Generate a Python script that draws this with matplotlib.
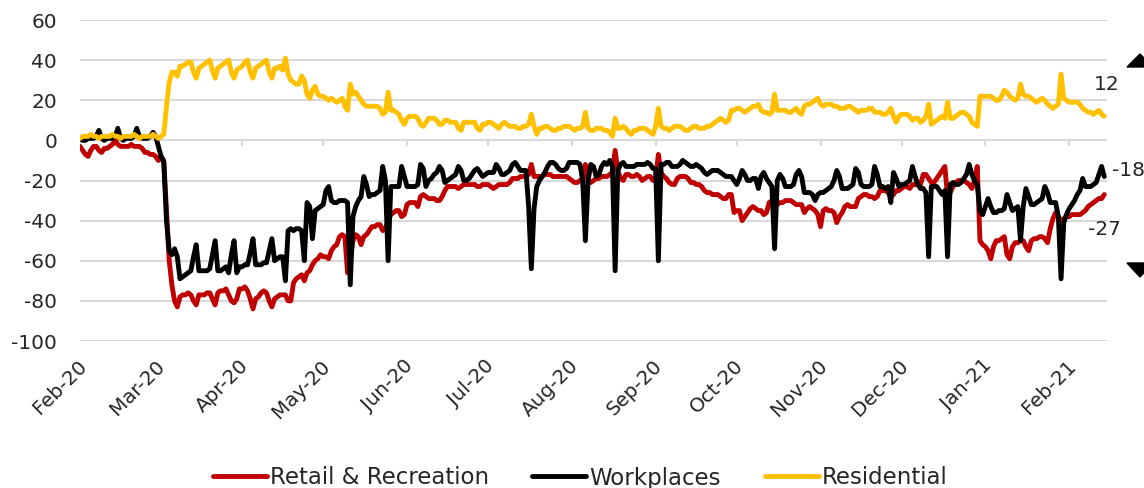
import datetime
import matplotlib
matplotlib.use("Agg")
import matplotlib.pyplot as plt
import matplotlib.dates as mdates
import matplotlib.transforms as mtransforms
from matplotlib.patches import Polygon

START_DATE = datetime.date(2020, 2, 15)

# daily % change from baseline, one row per week (Sat..Fri) starting 15 Feb 2020
retail_recreation = [
    -3, -5, -7, -8, -5, -3, -3,
    -5, -6, -4, -4, -3, -2, 0,
    -2, -3, -3, -3, -3, -2, -3,
    -3, -3, -4, -6, -6, -7, -7,
    -8, -10, -8, -10, -35, -60, -72,
    -80, -83, -78, -77, -77, -76, -77,
    -80, -82, -77, -77, -77, -76, -76,
    -79, -82, -76, -75, -75, -74, -77,
    -80, -81, -79, -74, -74, -73, -75,
    -79, -84, -79, -78, -76, -75, -76,
    -80, -83, -79, -78, -77, -77, -77,
    -80, -80, -71, -69, -68, -67, -70,
    -66, -65, -62, -60, -59, -57, -58,
    -58, -59, -55, -53, -52, -48, -47,
    -48, -66, -60, -50, -47, -48, -52,
    -48, -47, -45, -43, -43, -42, -42,
    -45, -44, -40, -37, -36, -35, -35,
    -38, -37, -32, -31, -31, -31, -33,
    -28, -27, -28, -29, -29, -29, -30,
    -30, -28, -25, -23, -23, -23, -23,
    -24, -23, -22, -22, -22, -22, -22,
    -23, -23, -22, -22, -22, -23, -24,
    -23, -22, -22, -22, -22, -21, -19,
    -19, -19, -18, -18, -18, -17, -12,
    -18, -18, -18, -18, -17, -17, -17,
    -18, -18, -18, -18, -18, -18, -19,
    -20, -21, -21, -20, -19, -12, -21,
    -21, -20, -19, -19, -18, -18, -18,
    -17, -16, -5, -15, -19, -20, -17,
    -17, -18, -18, -17, -18, -20, -19,
    -18, -18, -20, -19, -7, -16, -18,
    -19, -21, -22, -22, -19, -18, -18,
    -18, -19, -21, -21, -22, -22, -23,
    -25, -26, -26, -27, -27, -27, -28,
    -29, -29, -27, -27, -36, -35, -35,
    -40, -38, -36, -34, -33, -34, -35,
    -35, -37, -36, -31, -30, -31, -32,
    -31, -31, -30, -30, -30, -31, -32,
    -32, -32, -36, -34, -33, -34, -35,
    -37, -43, -35, -34, -35, -35, -36,
    -41, -38, -36, -33, -32, -33, -33,
    -33, -29, -28, -27, -27, -28, -28,
    -29, -28, -25, -25, -25, -26, -28,
    -27, -25, -25, -24, -23, -23, -24,
    -22, -22, -22, -22, -17, -17, -19,
    -21, -21, -19, -17, -15, -13, -28,
    -26, -23, -21, -20, -20, -20, -21,
    -22, -24, -20, -13, -50, -52, -53,
    -55, -59, -53, -50, -50, -49, -48,
    -57, -59, -53, -51, -51, -50, -50,
    -53, -55, -50, -49, -49, -48, -48,
    -49, -51, -44, -39, -36, -38, -40,
    -39, -38, -38, -37, -37, -37, -37,
    -36, -35, -33, -32, -31, -30, -29,
    -29, -27,
]

workplaces = [
    1, 0, 0, 1, 1, 1, 2,
    5, 1, 0, 1, 1, 1, 2,
    6, 1, 0, 1, 1, 1, 2,
    6, 2, 1, 1, 1, 2, 4,
    2, -3, -8, -11, -40, -55, -57,
    -54, -58, -69, -68, -67, -66, -65,
    -58, -52, -65, -65, -65, -65, -64,
    -57, -50, -65, -65, -64, -63, -66,
    -57, -50, -66, -63, -63, -62, -62,
    -56, -49, -62, -62, -62, -61, -61,
    -55, -49, -60, -59, -58, -58, -70,
    -45, -44, -45, -44, -44, -45, -60,
    -31, -33, -49, -35, -34, -33, -32,
    -25, -23, -30, -31, -31, -30, -30,
    -30, -31, -72, -38, -33, -30, -28,
    -18, -22, -28, -27, -27, -26, -25,
    -13, -20, -60, -23, -23, -23, -23,
    -13, -18, -23, -23, -23, -23, -22,
    -12, -14, -23, -20, -19, -17, -16,
    -13, -15, -21, -20, -19, -18, -17,
    -13, -15, -20, -20, -19, -17, -15,
    -14, -16, -18, -17, -16, -16, -16,
    -12, -14, -17, -17, -16, -15, -12,
    -11, -13, -15, -15, -15, -33, -64,
    -34, -23, -20, -18, -16, -13, -11,
    -11, -12, -14, -15, -15, -14, -11,
    -11, -11, -11, -12, -20, -50, -20,
    -12, -13, -18, -17, -13, -11, -12,
    -10, -13, -65, -15, -12, -11, -13,
    -13, -13, -13, -12, -12, -12, -12,
    -11, -12, -14, -14, -60, -12, -12,
    -11, -11, -13, -13, -13, -12, -10,
    -11, -12, -13, -13, -12, -13, -14,
    -16, -17, -16, -15, -15, -15, -16,
    -17, -18, -18, -18, -20, -22, -19,
    -15, -17, -20, -20, -19, -19, -24,
    -18, -16, -19, -21, -23, -54, -20,
    -17, -19, -23, -23, -23, -22, -17,
    -15, -18, -26, -26, -26, -27, -30,
    -27, -26, -26, -25, -24, -23, -20,
    -15, -18, -24, -24, -24, -23, -22,
    -14, -16, -22, -23, -23, -23, -22,
    -13, -17, -23, -23, -24, -23, -31,
    -16, -19, -23, -22, -22, -21, -20,
    -13, -18, -22, -24, -24, -26, -58,
    -23, -23, -23, -25, -27, -25, -58,
    -22, -21, -22, -22, -21, -19, -17,
    -12, -17, -20, -22, -35, -37, -33,
    -29, -33, -36, -36, -35, -35, -34,
    -27, -31, -35, -34, -33, -50, -33,
    -24, -28, -32, -32, -31, -30, -29,
    -23, -26, -31, -31, -31, -38, -69,
    -41, -37, -34, -32, -30, -27, -25,
    -19, -23, -23, -23, -22, -21, -17,
    -13, -18,
]

residential = [
    1, 2, 2, 2, 3, 2, 2,
    1, 2, 2, 2, 2, 3, 2,
    2, 1, 2, 2, 2, 2, 3,
    2, 1, 2, 2, 2, 2, 3,
    2, 1, 2, 3, 17, 29, 34,
    34, 32, 37, 37, 38, 39, 39,
    34, 31, 36, 37, 38, 39, 40,
    35, 31, 36, 37, 38, 39, 40,
    34, 31, 35, 36, 37, 39, 40,
    34, 31, 36, 37, 38, 39, 40,
    34, 31, 36, 36, 37, 35, 41,
    33, 30, 29, 28, 28, 32, 30,
    23, 21, 25, 27, 23, 22, 22,
    21, 20, 21, 20, 19, 20, 21,
    17, 15, 28, 23, 24, 22, 20,
    18, 17, 17, 17, 17, 17, 16,
    13, 14, 24, 15, 15, 14, 13,
    10, 8, 11, 12, 12, 12, 11,
    8, 7, 9, 11, 11, 11, 10,
    8, 8, 10, 10, 9, 9, 9,
    6, 5, 9, 9, 9, 9, 9,
    6, 5, 8, 8, 9, 9, 8,
    7, 6, 8, 9, 8, 7, 7,
    7, 6, 6, 7, 7, 8, 13,
    7, 3, 6, 6, 7, 7, 6,
    5, 5, 6, 6, 7, 7, 7,
    6, 5, 6, 6, 7, 14, 6,
    5, 5, 6, 6, 6, 5, 5,
    4, 2, 11, 6, 6, 7, 6,
    4, 3, 5, 5, 6, 6, 6,
    5, 4, 3, 7, 16, 7, 6,
    6, 5, 6, 7, 7, 7, 6,
    5, 5, 6, 7, 7, 6, 6,
    6, 7, 7, 8, 9, 10, 11,
    10, 9, 10, 15, 15, 16, 16,
    15, 14, 15, 16, 17, 17, 18,
    15, 14, 14, 13, 14, 23, 15,
    15, 15, 15, 14, 14, 15, 16,
    14, 13, 17, 18, 18, 19, 20,
    21, 18, 17, 18, 18, 18, 17,
    17, 16, 16, 16, 17, 17, 16,
    15, 14, 15, 15, 15, 16, 16,
    14, 14, 14, 13, 13, 14, 16,
    12, 9, 12, 13, 13, 13, 12,
    10, 11, 11, 9, 10, 12, 18,
    8, 9, 10, 11, 12, 11, 19,
    11, 11, 12, 13, 14, 14, 13,
    12, 9, 8, 7, 22, 22, 22,
    22, 22, 21, 20, 20, 22, 25,
    24, 22, 21, 20, 21, 28, 23,
    22, 22, 21, 20, 19, 20, 21,
    20, 18, 17, 16, 17, 18, 33,
    21, 20, 19, 19, 19, 19, 18,
    16, 15, 14, 14, 13, 14, 15,
    13, 12,
]

series_names = ["Retail & Recreation", "Workplaces", "Residential"]
series_colors = ["#C00000", "#000000", "#FFC000"]
y_ticks = [-100, -80, -60, -40, -20, 0, 20, 40, 60]

TEXT_COLOR = "#262626"
GRID_COLOR = "#D9D9D9"


def day_list(n):
    return [START_DATE + datetime.timedelta(days=i) for i in range(n)]


def month_ticks(first, count):
    ticks = []
    year, month = first.year, first.month
    for _ in range(count):
        ticks.append(datetime.date(year, month, 15))
        month += 1
        if month > 12:
            month = 1
            year += 1
    return ticks


def main():
    plt.rcParams['font.family'] = ['DejaVu Sans']
    plt.rcParams['axes.unicode_minus'] = False
    fig = plt.figure(figsize=(11.44, 4.88), dpi=100)
    ax = fig.add_axes([80 / 1144, 1 - 341 / 488, 1027 / 1144, 321 / 488])

    all_series = [retail_recreation, workplaces, residential]
    for values, name, color in zip(all_series, series_names, series_colors):
        ax.plot(day_list(len(values)), values, color=color, lw=3.5,
                solid_joinstyle='round', solid_capstyle='round', label=name)

    ax.set_xlim(START_DATE, START_DATE + datetime.timedelta(days=380))
    ax.set_ylim(-100, 60)
    ax.set_yticks(y_ticks)
    ax.yaxis.grid(True, color=GRID_COLOR, lw=1.5)
    ax.set_axisbelow(True)
    for side in ("top", "right", "left", "bottom"):
        ax.spines[side].set_visible(False)

    # month ticks sit on the zero line, labels at the bottom
    tick_dates = month_ticks(START_DATE, 13)
    ax.set_xticks(tick_dates)
    ax.xaxis.set_major_formatter(mdates.DateFormatter("%b-%y"))
    ax.vlines(tick_dates, -3, 0, color=GRID_COLOR, lw=1.5, zorder=0.5)

    ax.tick_params(axis='x', length=0, pad=11, labelsize=14.3, labelcolor=TEXT_COLOR)
    ax.tick_params(axis='y', length=0, pad=16.5, labelsize=14.5, labelcolor=TEXT_COLOR)
    offset = mtransforms.ScaledTranslation(-3 / 100, 0, fig.dpi_scale_trans)
    for label in ax.get_xticklabels():
        label.set_rotation(45)
        label.set_ha('right')
        label.set_va('top')
        label.set_rotation_mode('anchor')
        label.set_transform(label.get_transform() + offset)

    last_day = day_list(len(residential))[-1]
    ax.annotate("%d" % residential[-1], xy=(last_day, residential[-1]),
                xytext=(2, 32), textcoords='offset pixels', ha='center', va='center',
                fontsize=14.5, color=TEXT_COLOR, annotation_clip=False)
    ax.annotate("%d" % workplaces[-1], xy=(last_day, workplaces[-1]),
                xytext=(8, 6), textcoords='offset pixels', ha='left', va='center',
                fontsize=14.5, color=TEXT_COLOR, annotation_clip=False)
    ax.annotate("%d" % retail_recreation[-1], xy=(last_day, retail_recreation[-1]),
                xytext=(0, -35), textcoords='offset pixels', ha='center', va='center',
                fontsize=14.5, color=TEXT_COLOR, annotation_clip=False)

    # arrow heads cut off at the right edge
    for pts in ([(1127, 67), (1153, 67), (1140, 54)], [(1127, 263), (1153, 263), (1140, 277)]):
        tri = Polygon([(x / 1144, 1 - y / 488) for x, y in pts], closed=True,
                      transform=fig.transFigure, color="black", clip_on=False)
        fig.patches.append(tri)

    fig.legend(loc='center', bbox_to_anchor=(0.507, 1 - 478 / 488), ncol=3, frameon=False,
               fontsize=16.5, handlelength=2.36, handletextpad=0.13, columnspacing=1.9,
               labelcolor=TEXT_COLOR)

    fig.savefig("out.png", dpi=100)


if __name__ == "__main__":
    main()
